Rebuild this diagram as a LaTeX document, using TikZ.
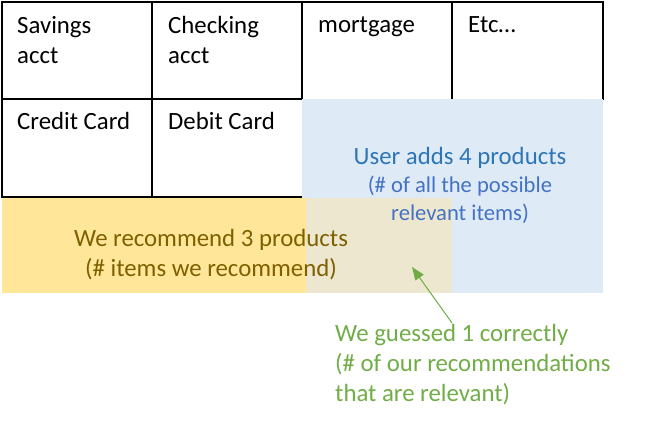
\documentclass[tikz,border=0pt]{standalone}
\usepackage{fontspec}
\setmainfont{Carlito}
\usetikzlibrary{arrows.meta}
\definecolor{blueFill}{HTML}{DEEBF7}
\definecolor{yellowFill}{HTML}{FFE699}
\definecolor{overlapFill}{HTML}{EDE7CF}
\definecolor{blueTitle}{HTML}{2E75B6}
\definecolor{blueSub}{HTML}{4472C4}
\definecolor{brownText}{HTML}{7F6000}
\definecolor{greenText}{HTML}{70AD47}
\tikzset{
  gridline/.style={line width=2pt, draw=black, line cap=rect},
  bigfont/.style={font=\fontsize{24.8}{30}\selectfont},
  smallfont/.style={font=\fontsize{22.6}{28}\selectfont},
  celltext/.style={bigfont, inner sep=0pt, text=black},
  pointer/.style={draw=greenText, line width=1pt, -{Triangle[length=13pt,width=10pt]}}
}
\begin{document}
\begin{tikzpicture}[x=1pt,y=-1pt]
\useasboundingbox (0,0) rectangle (661,423);
% grid
\draw[gridline] (2,196.5) -- (2,2) -- (603,2) -- (603,99);
\draw[gridline] (2,196.5) -- (302,196.5);
\draw[gridline] (152,2) -- (152,196.5);
\draw[gridline] (302,2) -- (302,99);
\draw[gridline] (452,2) -- (452,99);
\draw[gridline] (2,99) -- (302,99);
% fills
\fill[blueFill] (302,99) rectangle (603.3,293);
\fill[yellowFill] (2,197.5) rectangle (306,293);
\fill[overlapFill] (306,197.5) rectangle (452,293);
% cell texts
\node[celltext, anchor=north west, align=left] (savings) at (17,12) {\strut Savings\\\strut acct};
\node[celltext, anchor=north west, align=left] (checking) at (168,12) {\strut Checking\\\strut acct};
\node[celltext, anchor=base west] (mortgage) at (318,32.5) {mortgage};
\node[celltext, anchor=base west] (etc) at (468,32.5) {Etc…};
\node[celltext, anchor=base west] (credit) at (17,129.3) {Credit Card};
\node[celltext, anchor=base west] (debit) at (168,129.3) {Debit Card};
% blue texts
\node[bigfont, inner sep=0pt, text=blueTitle, anchor=base] (user) at (460,164.3) {User adds 4 products};
\node[smallfont, inner sep=0pt, text=blueSub, anchor=north, align=center] (usersub) at (460,173) {\strut(\# of all the possible\\\strut relevant items)};
% yellow text
\node[bigfont, inner sep=0pt, text=brownText, anchor=center, align=center] (recommend) at (211,255) {\strut We recommend 3 products\\\strut(\# items we recommend)};
% green text
\node[bigfont, inner sep=0pt, text=greenText, anchor=north west, align=left] (guessed) at (335,320) {\strut We guessed 1 correctly\\\strut(\# of our recommendations\\\strut that are relevant)};
% arrow
\coordinate (tail) at (452,323);
\coordinate (tip) at (412,267);
\draw[pointer] (tail) -- (tip);
\end{tikzpicture}
\end{document}
